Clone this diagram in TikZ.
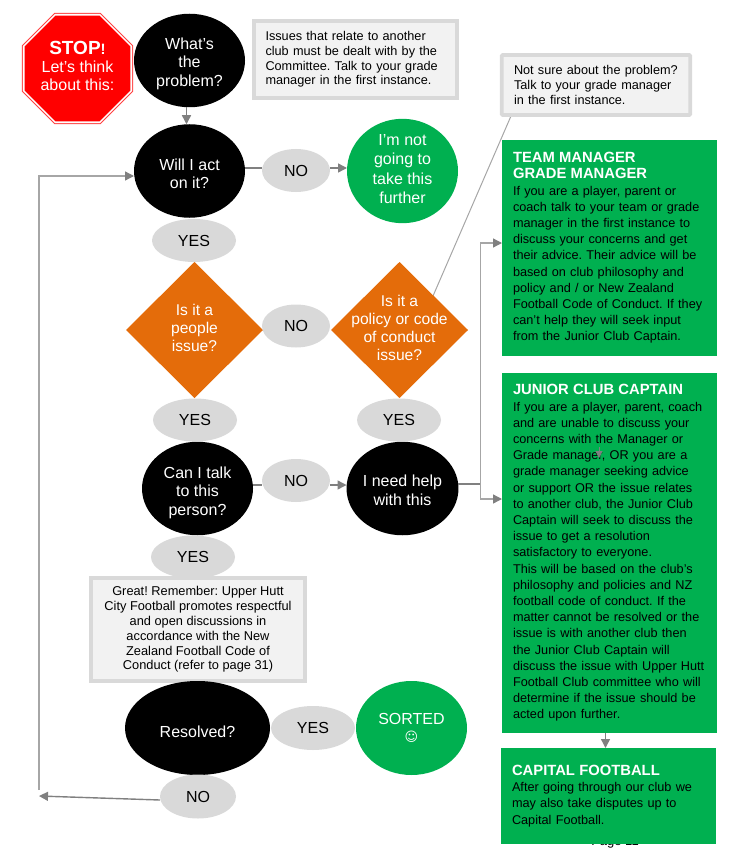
\documentclass[tikz,border=0pt]{standalone}
\usepackage{fontspec}
\setmainfont{Liberation Sans}
\newfontfamily\symf{DejaVu Sans}
\usetikzlibrary{shapes.geometric,arrows.meta}
\frenchspacing
\definecolor{grn}{HTML}{00B050}
\definecolor{org}{HTML}{E46C0A}
\definecolor{lgr}{HTML}{D9D9D9}
\definecolor{pal}{HTML}{F2F2F2}
\definecolor{lin}{HTML}{808080}
\definecolor{lin2}{HTML}{A6A6A6}
\tikzset{
  x=1pt,y=-1pt,
  oval/.style={ellipse,inner sep=0pt,outer sep=0pt,align=center},
  blk/.style={oval,fill=black,text=white,minimum width=111pt,minimum height=93.5pt,font=\fontsize{16}{18.5}\selectfont},
  grnoval/.style={oval,fill=grn,text=white,minimum width=111pt,minimum height=94pt,font=\fontsize{16}{19.6}\selectfont},
  lab/.style={oval,fill=lgr,text=black,minimum height=43pt,font=\fontsize{16}{18}\selectfont},
  dia/.style={diamond,aspect=1,inner sep=0pt,outer sep=0pt,fill=org,minimum width=137pt,minimum height=136pt},
  diatext/.style={inner sep=0pt,text=white,align=center,font=\fontsize{15.6}{18.2}\selectfont},
  note/.style={rectangle,draw=lgr,fill=pal,line width=3.6pt,inner sep=0pt,outer sep=0pt,text=black,font=\fontsize{12.7}{14.8}\selectfont},
  gbox/.style={rectangle,fill=grn,inner sep=0pt,outer sep=0pt,minimum width=215pt,align=left,text=black,font=\fontsize{12.7}{16.2}\selectfont},
  con/.style={draw=lin,line width=1.4pt},
  arr/.style={con,-{Triangle[length=9pt,width=9pt,fill=lin]}},
  larr/.style={draw=lin2,line width=1.3pt,-{Triangle[length=9pt,width=9pt,color=lin,fill=lin]}},
  oct/.style={regular polygon,regular polygon sides=8,inner sep=0pt,outer sep=0pt,align=center},
}
\newcommand{\ttlf}{\fontsize{14.8}{18.6}\selectfont\bfseries\color{white}}
% push the text of an oval down / up by the given amount
\newcommand{\dn}[1]{\rule{0pt}{\dimexpr 11.6pt+2\dimexpr #1\relax\relax}}
\newcommand{\up}[1]{\rule[-\dimexpr 2\dimexpr #1\relax\relax]{0pt}{0pt}}
\begin{document}
\begin{tikzpicture}
\useasboundingbox (0,0) rectangle (729,853);
% page footer, mostly hidden by the box
\node[font=\fontsize{13}{15}\selectfont,anchor=base] (pg) at (615,845) {Page 11};
% coordinates
\coordinate (tteam) at (502,243);
\coordinate (tjun) at (502,499);
\coordinate (junc) at (480.5,484);
\coordinate (loopa) at (39,790);
\coordinate (loopb) at (39,796);
\coordinate (stra) at (599,447);
\coordinate (strb) at (599,458);
\coordinate (nsl) at (511,116);
\coordinate (nsr) at (433,296);
\coordinate (jb) at (605.5,733);
\coordinate (cb) at (605.5,748);
% connectors beneath nodes
\draw[draw=lin2,line width=1pt] (nsl) -- (nsr);
% stop sign
\node[oct,fill=red!75!white,minimum size=120.5pt] (stopa) at (77.5,68.5) {};
\node[oct,fill=white,minimum size=118pt] (stopb) at (77.5,68.5) {};
\node[oct,fill=red,text=white,minimum size=114.5pt] (stop) at (77.5,68.5) {};
\node[align=center,text=white,font=\fontsize{16}{18.5}\selectfont,anchor=center] (stopt) at (77.5,66) {{\fontsize{19}{20}\selectfont\bfseries STOP}{\fontsize{15}{20}\selectfont\bfseries !}\\[-1pt]Let’s think\\about this:};
% ovals
\node[blk] (what) at (189.5,60.5) {\dn{3pt}What’s\\the\\problem?};
\node[blk] (will) at (189.5,171) {\dn{3pt}Will I act\\on it?};
\node[lab,minimum width=68pt] (no1) at (296,170.5) {NO};
\node[grnoval] (notgo) at (402.5,171) {I’m not\\going to\\take this\\further\up{2pt}};
\node[lab,minimum width=84pt] (yes1) at (194,240.5) {YES};
\node[dia] (people) at (194.5,330) {};
\node[diatext] (peoplet) at (194.5,328) {Is it a\\people\\issue?};
\node[dia] (policy) at (399.5,330) {};
\node[diatext] (policyt) at (399.5,328) {Is it a\\policy or code\\of conduct\\issue?};
\node[lab,minimum width=68pt] (no2) at (296,326) {NO};
\node[lab,minimum width=84pt] (yes2) at (195,420) {YES};
\node[lab,minimum width=84pt] (yes3) at (399,420) {YES};
\node[blk] (talk) at (197.5,488.5) {\dn{4pt}Can I talk\\to this\\person?};
\node[blk] (help) at (402.5,488.5) {\dn{2pt}I need help\\with this};
\node[lab,minimum width=68pt] (no3) at (296,480.5) {NO};
\node[lab,minimum width=84pt] (yes4) at (193,557) {YES};
% notes
\node[note,minimum width=203pt,minimum height=77.5pt,align=left,text width=180pt,inner xsep=11.5pt] (n1) at (355.5,59.5) {Issues that relate to another\\club must be dealt with by the\\Committee. Talk to your grade\\manager in the first instance.};
\node[note,rounded corners=1pt,minimum width=188.5pt,minimum height=60pt,align=left,text width=164pt,inner xsep=12pt] (n2) at (596,85) {Not sure about the problem?\\Talk to your grade manager\\in the first instance.};
\node[note,minimum width=214.5pt,minimum height=103pt,align=center,font=\fontsize{12.8}{14.8}\selectfont] (n3) at (198,629.5) {Great! Remember: Upper Hutt\\City Football promotes respectful\\and open discussions in\\accordance with the New\\Zealand Football Code of\\Conduct (refer to page 31)};
% bottom row
\node[blk,minimum width=145pt,minimum height=94pt] (res) at (197.5,728) {\dn{4pt}Resolved?};
\node[lab,minimum width=84pt,minimum height=44pt] (yes5) at (313,728) {YES};
\node[grnoval,minimum width=111pt] (sort) at (411.5,728) {SORTED\\[-2pt]{\symf\fontsize{13}{14}\selectfont ☺}};
\node[lab,minimum width=76pt,minimum height=44pt] (no4) at (198,796.5) {NO};
% green boxes
\node[gbox,minimum height=216pt,text width=193pt,inner xsep=11pt] (team) at (609.5,248) {{\ttlf TEAM MANAGER\\GRADE MANAGER}\\If you are a player, parent or\\coach talk to your team or grade\\manager in the first instance to\\discuss your concerns and get\\their advice. Their advice will be\\based on club philosophy and\\policy and / or New Zealand\\Football Code of Conduct. If they\\can’t help they will seek input\\from the Junior Club Captain.};
\node[gbox,minimum height=360pt,text width=193pt,inner xsep=11pt] (jun) at (609.5,553) {{\ttlf JUNIOR CLUB CAPTAIN}\\If you are a player, parent, coach\\and are unable to discuss your\\concerns with the Manager or\\Grade manager, OR you are a\\grade manager seeking advice\\or support OR the issue relates\\to another club, the Junior Club\\Captain will seek to discuss the\\issue to get a resolution\\satisfactory to everyone.\\This will be based on the club’s\\philosophy and policies and NZ\\football code of conduct. If the\\matter cannot be resolved or the\\issue is with another club then\\the Junior Club Captain will\\discuss the issue with Upper Hutt\\Football Club committee who will\\determine if the issue should be\\acted upon further.};
\node[gbox,minimum height=96pt,text width=193pt,inner xsep=11pt] (cap) at (608.5,796) {{\ttlf CAPITAL FOOTBALL}\\After going through our club we\\may also take disputes up to\\Capital Football.};
% connectors
\draw[arr] ([xshift=-3pt]what.south) -- ([xshift=-3pt]will.north);
\draw[con] ([yshift=3pt]will.east) -- ([yshift=2.5pt]no1.west);
\draw[arr] ([yshift=2.5pt]no1.east) -- ([yshift=3pt]notgo.west);
\draw[con] ([yshift=3.5pt]talk.east) -- ([yshift=-4.5pt]no3.west);
\draw[arr] ([yshift=-4.5pt]no3.east) -- ([yshift=3.5pt]help.west);
\draw[con] ([yshift=4.5pt]help.east) -- (junc);
\draw[larr] (junc) |- (tteam);
\draw[larr] (junc) |- (tjun);
\draw[larr] (loopa) |- ([yshift=-5pt]will.west);
\draw[arr] ([yshift=-3.5pt]no4.west) -- (loopb);
\draw[con,line width=0.8pt,-{Triangle[length=7pt,width=7pt,fill=lin]}] (stra) -- (strb);
\draw[arr] (jb) -- (cb);
\end{tikzpicture}
\end{document}
